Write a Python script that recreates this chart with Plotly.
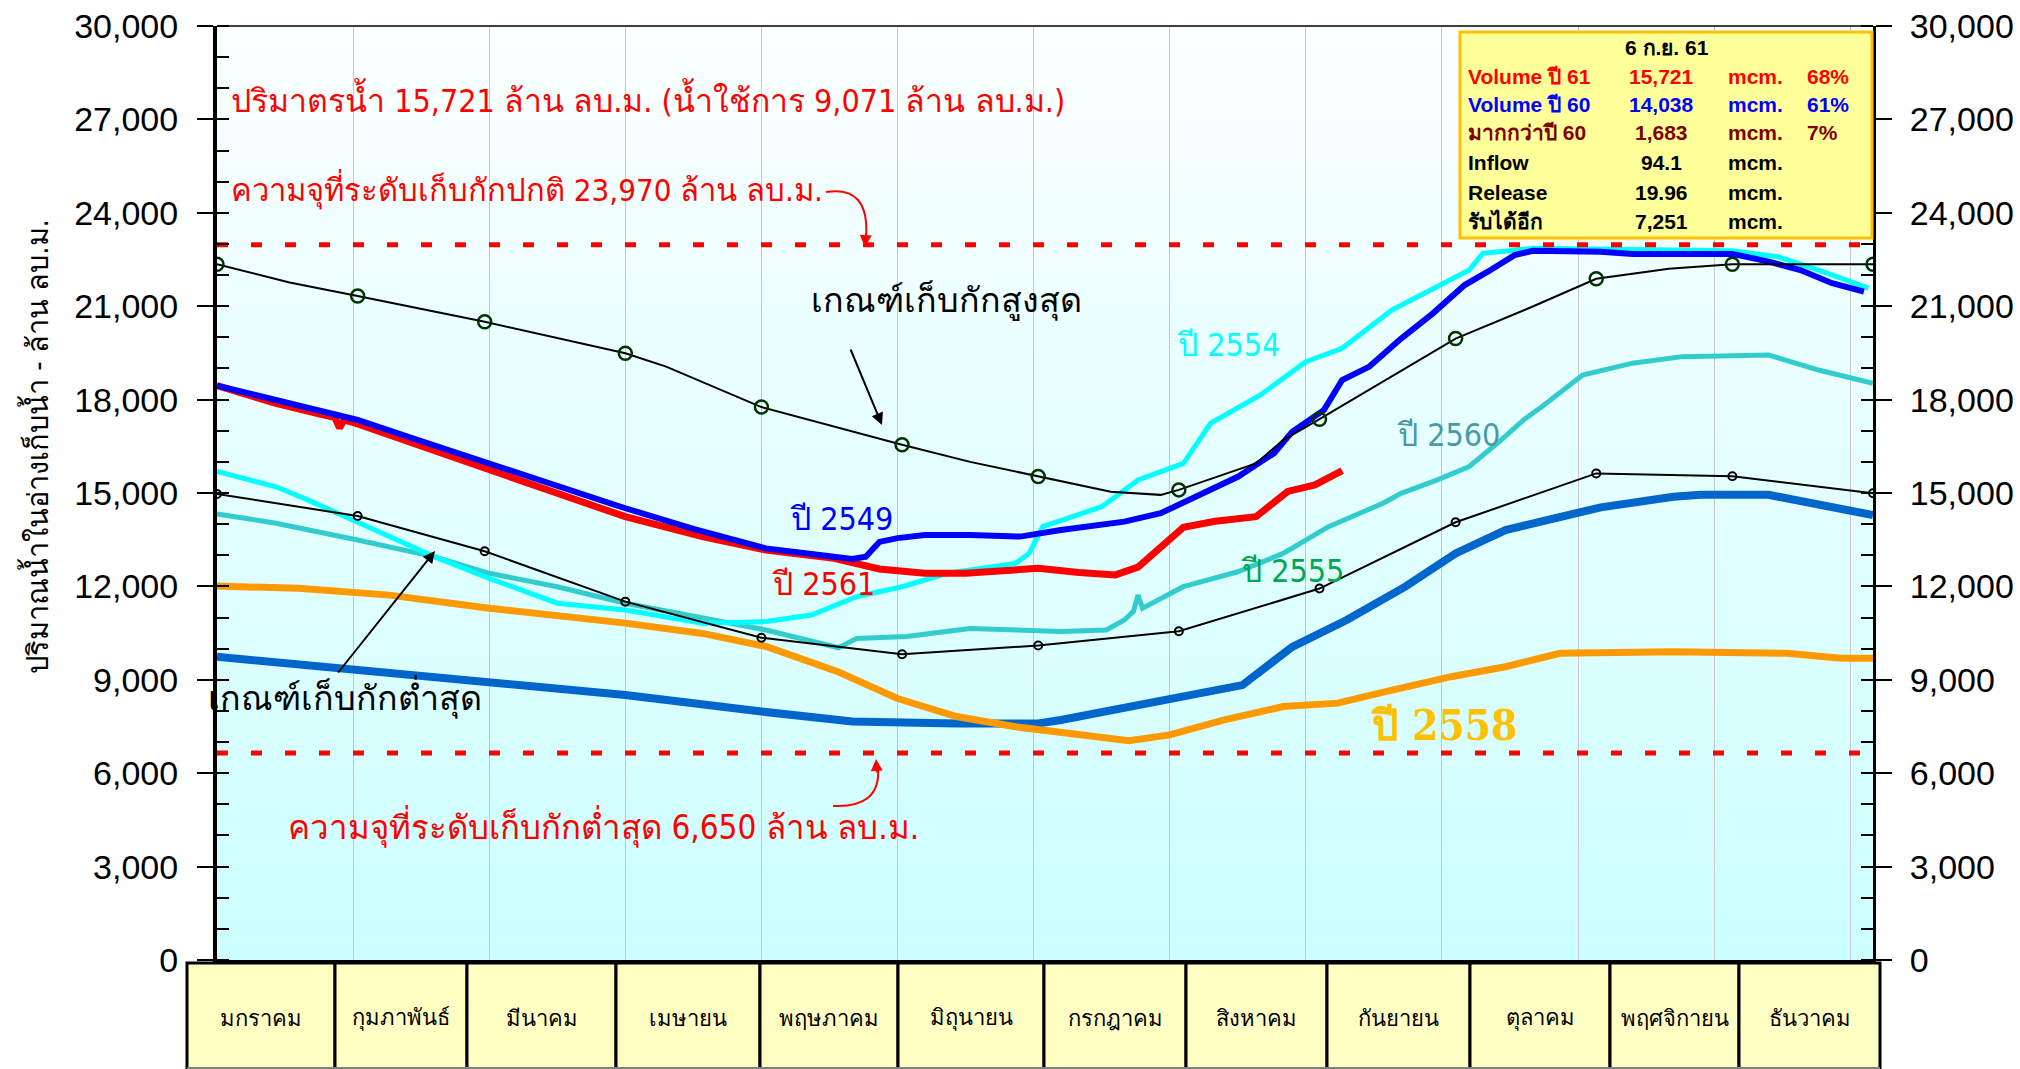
import plotly.graph_objects as go

# ---------------- data ----------------
months = ["มกราคม", "กุมภาพันธ์", "มีนาคม", "เมษายน", "พฤษภาคม", "มิถุนายน",
          "กรกฎาคม", "สิงหาคม", "กันยายน", "ตุลาคม", "พฤศจิกายน", "ธันวาคม"]

# day of year (0 = 1 Jan)
rule_mark_days = [0, 31, 59, 90, 120, 151, 181, 212, 243, 273, 304, 334, 365]
upper_rule_marks = [22350, 21330, 20500, 19490, 17760, 16550, 15530, 15100, 17370, 19960, 21880, 22345, 22345]
upper_rule_days = [0, 16, 31, 59, 90, 99, 120, 151, 166, 181, 197, 208, 212, 229, 235, 243, 273, 290, 304, 320, 334, 365]
upper_rule_vals = [22350, 21760, 21330, 20500, 19490, 19060, 17760, 16550, 16000, 15530, 15040, 14940, 15100,
                   15950, 16700, 17370, 19960, 20990, 21880, 22200, 22345, 22345]
lower_rule_vals = [14970, 14260, 13130, 11510, 10350, 9820, 10100, 10560, 11930, 14060, 15630, 15540, 14990]

y2561_days = [0, 13, 22, 26, 27, 28, 31, 42, 60, 75, 90, 107, 121, 136, 146, 156, 165, 175, 181, 190, 198,
              203, 208, 213, 220, 229, 233, 236, 242, 248]
y2561_vals = [18450, 17880, 17560, 17420, 17090, 17350, 17220, 16650, 15740, 14990, 14240, 13600, 13170, 12900,
              12560, 12420, 12420, 12500, 12580, 12450, 12370, 12620, 13250, 13900, 14090, 14240, 14700, 15050,
              15260, 15721]

y2549_days = [0, 31, 43, 60, 75, 90, 105, 121, 136, 140, 143, 146, 150, 156, 166, 177, 186, 200, 208, 215, 225,
              233, 237, 244, 248, 254, 261, 268, 275, 280, 286, 290, 305, 312, 334, 342, 349, 356, 363]
y2549_vals = [18450, 17345, 16760, 15950, 15230, 14510, 13850, 13220, 12950, 12880, 12950, 13430, 13550, 13650,
              13650, 13600, 13810, 14080, 14350, 14830, 15520, 16280, 16970, 17670, 18630, 19060, 19960, 20770,
              21680, 22100, 22640, 22780, 22750, 22680, 22680, 22430, 22160, 21740, 21470]

y2554_days = [0, 13, 20, 28, 38, 48, 60, 75, 90, 107, 121, 131, 141, 151, 161, 176, 179, 182, 195, 203, 213, 219,
              230, 240, 248, 259, 269, 276, 279, 286, 290, 334, 344, 353, 364]
y2554_vals = [15690, 15200, 14780, 14240, 13600, 12950, 12260, 11460, 11240, 10820, 10870, 11080, 11670, 11990,
              12420, 12740, 13060, 13920, 14560, 15420, 15950, 17240, 18150, 19220, 19650, 20880, 21630, 22160,
              22700, 22810, 22860, 22780, 22590, 22160, 21580]

y2560_days = [0, 13, 31, 48, 60, 75, 90, 107, 121, 137, 141, 152, 166, 186, 196, 200, 202, 203, 204, 213, 225, 235,
              245, 257, 261, 269, 276, 283, 288, 292, 301, 312, 323, 342, 353, 365]
y2560_vals = [14330, 14030, 13490, 12950, 12420, 11990, 11460, 10980, 10600, 10030, 10330, 10390, 10650, 10550,
              10600, 10920, 11200, 11720, 11300, 11990, 12470, 13060, 13920, 14670, 14990, 15420, 15850, 16700,
              17350, 17770, 18790, 19170, 19380, 19430, 18950, 18520]

y2558_days = [0, 18, 38, 60, 90, 107, 121, 137, 150, 163, 176, 185, 192, 201, 210, 222, 235, 247, 259, 272, 284,
              296, 321, 346, 358, 365]
y2558_vals = [12010, 11940, 11720, 11300, 10820, 10490, 10070, 9250, 8400, 7820, 7490, 7330, 7170, 7040, 7230,
              7710, 8140, 8250, 8670, 9100, 9420, 9850, 9900, 9850, 9690, 9690]

y2559_days = [0, 24, 59, 90, 120, 140, 163, 181, 186, 197, 210, 226, 237, 249, 262, 273, 284, 296, 305, 321, 327,
              342, 356, 365]
y2559_vals = [9740, 9420, 8940, 8510, 7980, 7660, 7600, 7600, 7710, 8030, 8350, 8830, 10060, 10920, 12000, 13060,
              13810, 14240, 14540, 14880, 14940, 14940, 14510, 14290]

normal_storage = 22970
min_storage = 6650

info_date = "6 ก.ย. 61"
info_labels = ["Volume ปี 61", "Volume ปี 60", "มากกว่าปี 60", "Inflow", "Release", "รับได้อีก"]
info_values = ["15,721", "14,038", "1,683", "94.1", "19.96", "7,251"]
info_units = ["mcm.", "mcm.", "mcm.", "mcm.", "mcm.", "mcm."]
info_pcts = ["68%", "61%", "7%", "", "", ""]

# ---------------- layout helpers ----------------
W, H = 2020, 1069
L, R, T, B = 217, 1873, 26, 960


def px(x):
    return (x - L) / (R - L)


def py(y):
    return (B - y) / (B - T)


THAI = "Cordia New, DejaVu Sans Condensed, sans-serif"
ARIAL = "Liberation Sans, Arial, sans-serif"

fig = go.Figure()

series = [
    (y2558_days, y2558_vals, "#FF9900", 7, "ปี 2558"),
    (y2559_days, y2559_vals, "#0066CC", 8, "ปี 2559"),
    (y2560_days, y2560_vals, "#33CCCC", 5, "ปี 2560"),
    (y2554_days, y2554_vals, "#00FFFF", 5, "ปี 2554"),
    (y2561_days, y2561_vals, "#FF0000", 7, "ปี 2561"),
    (y2549_days, y2549_vals, "#0000FF", 6, "ปี 2549"),
]
order = [1, 0, 2, 3, 4, 5]
for i in order:
    d, v, c, w, n = series[i]
    fig.add_trace(go.Scatter(x=d, y=v, mode="lines", line=dict(color=c, width=w), name=n,
                             hoverinfo="x+y+name"))

fig.add_trace(go.Scatter(x=upper_rule_days, y=upper_rule_vals, mode="lines",
                         line=dict(color="black", width=2), name="เกณฑ์เก็บกักสูงสุด"))
fig.add_trace(go.Scatter(x=rule_mark_days, y=upper_rule_marks, mode="markers",
                         marker=dict(symbol="circle-open", size=13, color="#003300", line=dict(width=2.5)),
                         name="เกณฑ์เก็บกักสูงสุด", showlegend=False))
fig.add_trace(go.Scatter(x=rule_mark_days, y=lower_rule_vals, mode="lines+markers",
                         line=dict(color="black", width=2),
                         marker=dict(symbol="circle-open", size=8, color="black", line=dict(width=2)),
                         name="เกณฑ์เก็บกักต่ำสุด"))

for lvl in (normal_storage, min_storage):
    fig.add_trace(go.Scatter(x=[0, 365], y=[lvl, lvl], mode="lines",
                             line=dict(color="#FF0000", width=5, dash="11px,23px"), hoverinfo="y"))

# invisible trace for right axis
fig.add_trace(go.Scatter(x=[0], y=[0], yaxis="y2", mode="markers", marker=dict(opacity=0),
                         hoverinfo="skip"))

shapes = []
nb = 40
for i in range(nb):
    f = (i + 0.5) / nb
    r = int(round(204 + (251 - 204) * f))
    shapes.append(dict(type="rect", xref="paper", yref="paper", x0=0, x1=1, y0=i / nb, y1=(i + 1) / nb,
                       fillcolor=f"rgb({r},255,255)", line=dict(width=0), layer="below"))
shapes.append(dict(type="line", xref="paper", yref="paper", x0=0, x1=1, y0=1, y1=1,
                   line=dict(color="black", width=1.5)))

annotations = []


def txt(x, y, s, color, size, family=THAI, anchor="left", angle=0):
    annotations.append(dict(xref="paper", yref="paper", x=px(x), y=py(y), xanchor=anchor, yanchor="middle",
                            text=s, showarrow=False, textangle=angle,
                            font=dict(family=family, size=size, color=color)))


# month table
edges = [187, 335, 467, 616, 760, 898, 1044, 1186, 1327, 1470, 1610, 1739, 1880]
for i, m in enumerate(months):
    shapes.append(dict(type="rect", xref="paper", yref="paper", x0=px(edges[i]), x1=px(edges[i + 1]),
                       y0=py(963), y1=py(1070), fillcolor="#FFFFC4", line=dict(color="black", width=3)))
    txt((edges[i] + edges[i + 1]) / 2, 1018, m, "black", 22, family="Angsana New, serif", anchor="center")
shapes.append(dict(type="line", xref="paper", yref="paper", x0=px(edges[0]), x1=px(edges[-1]),
                   y0=py(1068), y1=py(1068), line=dict(color="#808080", width=2)))

# info box
shapes.append(dict(type="rect", xref="paper", yref="paper", x0=px(1460), x1=px(1872), y0=py(32), y1=py(238),
                   fillcolor="#FFFF99", line=dict(color="#FFC000", width=3)))
txt(1667, 48, "<b>" + info_date + "</b>", "black", 21, family=ARIAL, anchor="center")
row_colors = ["#FF0000", "#0000FF", "#800000", "black", "black", "black"]
row_y = [77, 105, 133, 162, 192, 221]
for lab, val, unit, pct, col, yy in zip(info_labels, info_values, info_units, info_pcts, row_colors, row_y):
    txt(1466, yy, "<b>" + lab + "</b>", col, 21, family=ARIAL)
    txt(1661, yy, "<b>" + val + "</b>", col, 21, family=ARIAL, anchor="center")
    txt(1726, yy, "<b>" + unit + "</b>", col, 21, family=ARIAL)
    if pct:
        txt(1805, yy, "<b>" + pct + "</b>", col, 21, family=ARIAL)

txt(229, 99, "ปริมาตรน้ำ 15,721 ล้าน ลบ.ม. (น้ำใช้การ 9,071 ล้าน ลบ.ม.)", "#FF0000", 32)
txt(229, 189, "ความจุที่ระดับเก็บกักปกติ 23,970 ล้าน ลบ.ม.", "#FF0000", 31)
txt(286, 826, "ความจุที่ระดับเก็บกักต่ำสุด 6,650 ล้าน ลบ.ม.", "#FF0000", 33)
txt(809, 300, "เกณฑ์เก็บกักสูงสุด", "black", 34)
txt(206, 697, "เกณฑ์เก็บกักต่ำสุด", "black", 34)
txt(1175, 345, "ปี 2554", "#00FFFF", 32)
txt(1395, 435, "ปี 2560", "#4A9AA4", 32)
txt(788, 519, "ปี 2549", "#0000FF", 32)
txt(770, 584, "ปี 2561", "#FF0000", 32)
txt(1239, 571, "ปี 2555", "#00A650", 32)
txt(1369, 725, "<b>ปี 2558</b>", "#FFC000", 42, family="Angsana New, DejaVu Serif Condensed, serif")

txt(36, 447, "ปริมาณน้ำในอ่างเก็บน้ำ - ล้าน ลบ.ม.", "black", 29, anchor="center", angle=-90)


def arrow(hx, hy, tx, ty, color, width=2):
    annotations.append(dict(xref="paper", yref="paper", x=px(hx), y=py(hy), ax=tx - hx, ay=ty - hy, text="",
                            showarrow=True, arrowhead=2, arrowsize=1.2, arrowwidth=width, arrowcolor=color))


arrow(882, 425, 850, 348, "black")
arrow(435, 551, 337, 674, "black")
shapes.append(dict(type="path", xref="paper", yref="paper",
                   path=f"M {px(826)},{py(192)} Q {px(870)},{py(185)} {px(866)},{py(238)}",
                   line=dict(color="#FF0000", width=2)))
arrow(865, 247, 866, 232, "#FF0000")
shapes.append(dict(type="path", xref="paper", yref="paper",
                   path=f"M {px(833)},{py(806)} Q {px(881)},{py(808)} {px(878)},{py(768)}",
                   line=dict(color="#FF0000", width=2)))
arrow(876, 759, 877, 774, "#FF0000")

axis_common = dict(range=[0, 30000], dtick=3000, tick0=0, tickformat=",d", ticks="outside", ticklen=16,
                   tickwidth=2, tickcolor="black", showline=True, linecolor="black", showgrid=False,
                   zeroline=False, tickfont=dict(family=ARIAL, size=34, color="black"),
                   minor=dict(ticks="inside", dtick=1000, ticklen=12, tickwidth=2, tickcolor="black",
                              showgrid=False))

fig.update_layout(
    width=W, height=H,
    margin=dict(l=L, r=W - R, t=T, b=H - B, autoexpand=False),
    paper_bgcolor="white", plot_bgcolor="#E6FFFF",
    showlegend=False,
    xaxis=dict(range=[0, 365], showticklabels=False, ticks="", showgrid=True, dtick=30, tick0=0,
               gridcolor="#C8C8C8", gridwidth=1, showline=True, linecolor="black", linewidth=4,
               zeroline=False, fixedrange=True),
    yaxis=dict(**axis_common, linewidth=4, side="left", ticklabelstandoff=12),
    yaxis2=dict(**axis_common, linewidth=3, side="right", overlaying="y", anchor="x", ticklabelstandoff=11),
    shapes=shapes, annotations=annotations,
)

fig.write_html("out.html", config={"displayModeBar": False},
               post_script="document.body.style.margin='0px';document.body.style.overflow='hidden';")
